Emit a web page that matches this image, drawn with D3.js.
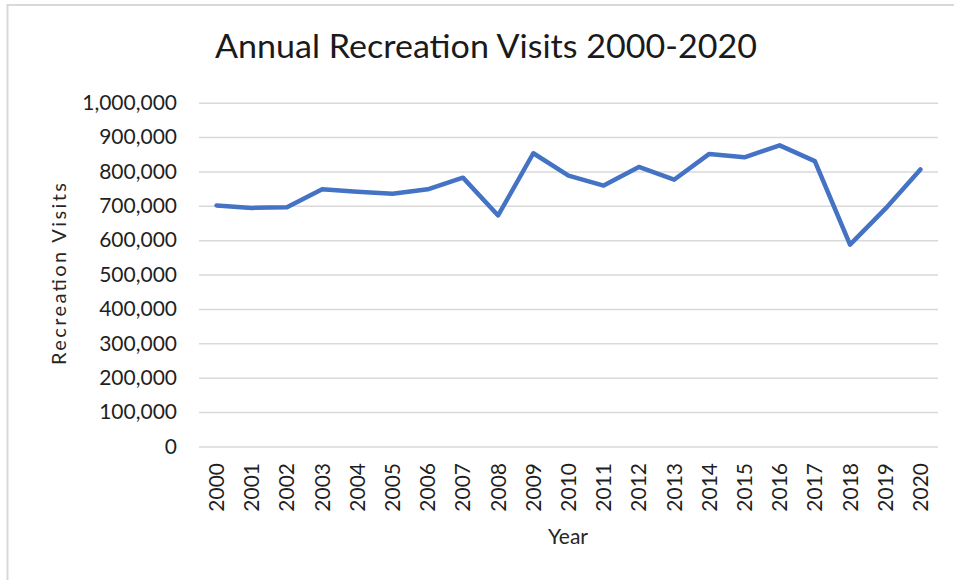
<!DOCTYPE html>
<html>
<head>
<meta charset="utf-8">
<script src="https://cdn.jsdelivr.net/npm/d3@7"></script>
<style>
  html, body { margin: 0; padding: 0; background: #fff; }
  svg { display: block; }
  text { font-family: Lato, "Open Sans", sans-serif; }
</style>
</head>
<body>
<script>
// Annual recreation visits, 2000-2020
const years = ["2000","2001","2002","2003","2004","2005","2006","2007","2008","2009","2010",
               "2011","2012","2013","2014","2015","2016","2017","2018","2019","2020"];
const visits = [701000, 694000, 696000, 748000, 741000, 735000, 748000, 782000, 672000, 853000, 788000,
                759000, 813000, 776000, 851000, 841000, 876000, 830000, 587000, 691000, 806000];
const yTicks = [0, 100000, 200000, 300000, 400000, 500000, 600000, 700000, 800000, 900000, 1000000];

const W = 954, H = 580;
const plot = { left: 199, right: 938, top: 102.7, bottom: 446.5 };

const svg = d3.select("body").append("svg")
  .attr("width", W).attr("height", H);

// chart frame (top and left edges)
svg.append("line").attr("x1", 7).attr("x2", W).attr("y1", 5).attr("y2", 5)
  .attr("stroke", "#d9d9d9").attr("stroke-width", 2);
svg.append("line").attr("x1", 7.5).attr("x2", 7.5).attr("y1", 4).attr("y2", H)
  .attr("stroke", "#d9d9d9").attr("stroke-width", 2);

const x = d3.scaleBand().domain(years).range([plot.left, plot.right]).padding(0);
const y = d3.scaleLinear().domain([0, 1000000]).range([plot.bottom, plot.top]);
const cx = d => x(d) + x.bandwidth() / 2;

// horizontal gridlines + value labels
const yAxis = d3.axisLeft(y)
  .tickValues(yTicks)
  .tickSize(-(plot.right - plot.left))
  .tickPadding(22)
  .tickFormat(d3.format(","));
const gy = svg.append("g").attr("transform", `translate(${plot.left},0)`).call(yAxis);
gy.select(".domain").remove();
gy.selectAll(".tick line").attr("stroke", "#d9d9d9").attr("stroke-width", 1.5);
gy.selectAll(".tick text")
  .attr("fill", "#1f1f1f")
  .style("font-size", "21px");

// year labels, rotated
const xAxis = d3.axisBottom(x).tickSize(0).tickPadding(0);
const gx = svg.append("g").attr("transform", `translate(0,${plot.bottom})`).call(xAxis);
gx.select(".domain").remove();
gx.selectAll(".tick text")
  .attr("fill", "#1f1f1f")
  .style("font-size", "21px")
  .attr("text-anchor", "end")
  .attr("dy", null)
  .attr("y", 0)
  .attr("transform", "translate(7.5,16.5) rotate(-90)");

// series line
const line = d3.line()
  .x((d, i) => cx(years[i]))
  .y(d => y(d));
svg.append("path")
  .datum(visits)
  .attr("d", line)
  .attr("fill", "none")
  .attr("stroke", "#4472c4")
  .attr("stroke-width", 4.5)
  .attr("stroke-linejoin", "round")
  .attr("stroke-linecap", "round");

// title
svg.append("text")
  .attr("x", 486).attr("y", 58.3)
  .attr("text-anchor", "middle")
  .attr("fill", "#1a1a1a")
  .style("font-size", "32px")
  .attr("textLength", 542)
  .attr("lengthAdjust", "spacingAndGlyphs")
  .text("Annual Recreation Visits 2000-2020");

// axis titles
svg.append("text")
  .attr("transform", "translate(66,274) rotate(-90)")
  .attr("text-anchor", "middle")
  .attr("fill", "#262626")
  .style("font-size", "20px")
  .attr("textLength", 182)
  .attr("lengthAdjust", "spacing")
  .text("Recreation Visits");

svg.append("text")
  .attr("x", 568).attr("y", 544.3)
  .attr("text-anchor", "middle")
  .attr("fill", "#262626")
  .style("font-size", "21px")
  .text("Year");
</script>
</body>
</html>
